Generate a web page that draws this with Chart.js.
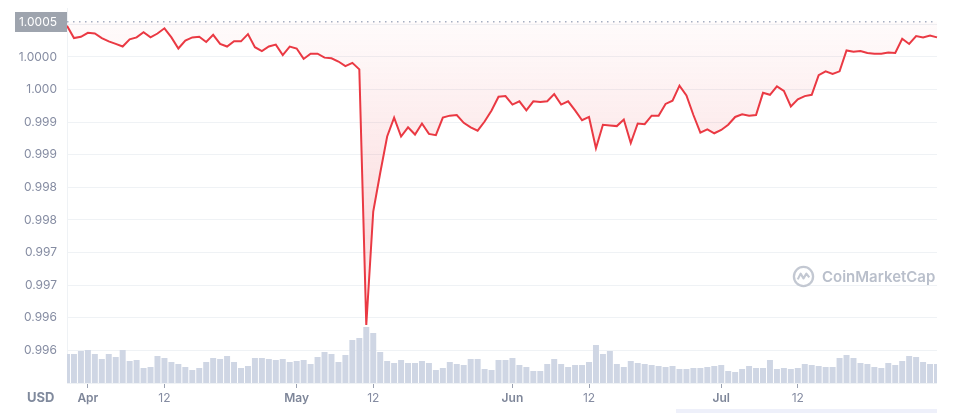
<!DOCTYPE html>
<html>
<head>
<meta charset="utf-8">
<script src="https://cdn.jsdelivr.net/npm/chart.js@4/dist/chart.umd.min.js"></script>
<style>
  body { margin: 0; background: #fff; }
  #wrap { position: relative; width: 955px; height: 413px; font-family: Inter, sans-serif; }
  #usd { position: absolute; left: 27px; top: 389px; font-size: 13px; font-weight: 700; color: #808a9d; }
  #wm { position: absolute; left: 792px; top: 265px; display: flex; align-items: center; gap: 7px;
        font-size: 15px; font-weight: 600; color: #b9bfcb; }
  #nav { position: absolute; left: 676px; top: 409px; width: 261px; height: 4px; background: #eef0fa; }
</style>
</head>
<body>
<div id="wrap">
  <canvas id="priceChart" width="955" height="413"></canvas>
  <div id="usd">USD</div>
  <div id="wm">
    <svg width="23" height="23" viewBox="0 0 24 24">
      <circle cx="12" cy="12" r="10" fill="none" stroke="#c3c8d2" stroke-width="2.4"/>
      <path d="M6 15 L9 9 L12 14 L15 9 L18 13" fill="none" stroke="#c3c8d2" stroke-width="2.2" stroke-linejoin="round"/>
    </svg>
    <span>CoinMarketCap</span>
  </div>
  <div id="nav"></div>
</div>
<script>
// --- DATA ---
const dates = [
  'Mar 29','Mar 30','Mar 31',
  'Apr 1','Apr 2','Apr 3','Apr 4','Apr 5','Apr 6','Apr 7','Apr 8','Apr 9','Apr 10',
  'Apr 11','Apr 12','Apr 13','Apr 14','Apr 15','Apr 16','Apr 17','Apr 18','Apr 19','Apr 20',
  'Apr 21','Apr 22','Apr 23','Apr 24','Apr 25','Apr 26','Apr 27','Apr 28','Apr 29','Apr 30',
  'May 1','May 2','May 3','May 4','May 5','May 6','May 7','May 8','May 9','May 10',
  'May 11','May 12','May 13','May 14','May 15','May 16','May 17','May 18','May 19','May 20',
  'May 21','May 22','May 23','May 24','May 25','May 26','May 27','May 28','May 29','May 30','May 31',
  'Jun 1','Jun 2','Jun 3','Jun 4','Jun 5','Jun 6','Jun 7','Jun 8','Jun 9','Jun 10',
  'Jun 11','Jun 12','Jun 13','Jun 14','Jun 15','Jun 16','Jun 17','Jun 18','Jun 19','Jun 20',
  'Jun 21','Jun 22','Jun 23','Jun 24','Jun 25','Jun 26','Jun 27','Jun 28','Jun 29','Jun 30',
  'Jul 1','Jul 2','Jul 3','Jul 4','Jul 5','Jul 6','Jul 7','Jul 8','Jul 9','Jul 10',
  'Jul 11','Jul 12','Jul 13','Jul 14','Jul 15','Jul 16','Jul 17','Jul 18','Jul 19','Jul 20',
  'Jul 21','Jul 22','Jul 23','Jul 24','Jul 25','Jul 26','Jul 27','Jul 28','Jul 29','Jul 30','Jul 31',
  'Aug 1'
];

const prices = [
  1.00048, 1.00029, 1.00031, 1.00037, 1.00036, 1.00029, 1.00024, 1.00020, 1.00016, 1.00027,
  1.00030, 1.00038, 1.00030, 1.00036, 1.00044, 1.00030, 1.00013, 1.00025, 1.00030, 1.00031,
  1.00023, 1.00034, 1.00020, 1.00016, 1.00024, 1.00024, 1.00035, 1.00015, 1.00009, 1.00016,
  1.00019, 1.00003, 1.00016, 1.00013, 0.99997, 1.00005, 1.00005, 0.99999, 0.99998, 0.99993,
  0.99986, 0.99991, 0.99981, 0.99589, 0.99763, 0.99822, 0.99878, 0.99907, 0.99878, 0.99892,
  0.99881, 0.99898, 0.99882, 0.99880, 0.99907, 0.99910, 0.99911, 0.99899, 0.99892, 0.99887,
  0.99901, 0.99918, 0.99939, 0.99940, 0.99927, 0.99932, 0.99918, 0.99932, 0.99931, 0.99932,
  0.99943, 0.99927, 0.99932, 0.99918, 0.99903, 0.99908, 0.99860, 0.99896, 0.99895, 0.99894,
  0.99904, 0.99868, 0.99898, 0.99897, 0.99910, 0.99910, 0.99928, 0.99933, 0.99956, 0.99941,
  0.99911, 0.99884, 0.99889, 0.99883, 0.99888, 0.99896, 0.99908, 0.99912, 0.99910, 0.99911,
  0.99945, 0.99942, 0.99955, 0.99948, 0.99924, 0.99935, 0.99940, 0.99942, 0.99972, 0.99978,
  0.99974, 0.99978, 1.00010, 1.00008, 1.00009, 1.00006, 1.00005, 1.00005, 1.00007, 1.00006,
  1.00028, 1.00020, 1.00032, 1.00030, 1.00033, 1.00030
];

// relative daily volume (bar heights, no axis shown)
const volumes = [
  29, 29, 32, 33, 29, 24, 29, 26, 33, 22,
  23, 15, 16, 27, 25, 21, 19, 16, 13, 15,
  21, 25, 24, 27, 21, 15, 17, 25, 25, 24,
  23, 24, 21, 22, 23, 19, 26, 31, 29, 21,
  28, 43, 45, 56, 50, 31, 22, 20, 23, 20,
  20, 22, 20, 13, 15, 21, 19, 18, 24, 24,
  14, 13, 23, 23, 25, 18, 16, 12, 12, 19,
  24, 19, 16, 18, 18, 21, 38, 29, 32, 19,
  16, 22, 20, 19, 18, 17, 16, 17, 14, 14,
  15, 15, 16, 17, 18, 12, 11, 14, 17, 15,
  15, 23, 14, 15, 14, 15, 19, 18, 17, 16,
  16, 25, 28, 25, 20, 19, 16, 15, 20, 18,
  22, 27, 26, 21, 19, 19
];

const tickDates = ['Apr 1', 'Apr 12', 'May 1', 'May 12', 'Jun 1', 'Jun 12', 'Jul 1', 'Jul 12'];
const tickText  = ['Apr', '12', 'May', '12', 'Jun', '12', 'Jul', '12'];

const yTickValues = [0.9950, 0.9955, 0.9960, 0.9965, 0.9970, 0.9975, 0.9980, 0.9985, 0.9990, 0.9995, 1.0000, 1.0005];
const yTickLabels = ['', '0.996', '0.996', '0.997', '0.997', '0.998', '0.998', '0.999', '0.999', '1.000', '1.0000', ''];

const baseline = 1.000541;
const baselineLabel = '1.0005';

// --- HELPERS ---
const RED = '#ea3943';
const GREY = '#858ca2';

function isMonthTick(value) {
    const i = tickDates.indexOf(dates[value]);
    return i >= 0 && tickText[i] !== '12';
}

function fillGradient(context) {
    const { chart } = context;
    const area = chart.chartArea;
    if (!area) return 'rgba(234,57,67,0.08)';
    const g = chart.ctx.createLinearGradient(0, area.top, 0, area.bottom);
    g.addColorStop(0, 'rgba(234,57,67,0.02)');
    g.addColorStop(0.4, 'rgba(234,57,67,0.12)');
    g.addColorStop(0.6, 'rgba(234,57,67,0.17)');
    g.addColorStop(0.85, 'rgba(234,57,67,0.0)');
    return g;
}

// dotted open-price line, axis line and the price tag on the left
const refPlugin = {
    id: 'refLine',
    beforeDatasetsDraw(chart) {
        const { ctx, chartArea, scales } = chart;
        const y = scales.y.getPixelForValue(baseline);
        ctx.save();
        ctx.strokeStyle = '#eff2f5';
        ctx.lineWidth = 1;
        ctx.beginPath();
        ctx.moveTo(chartArea.left + 0.5, 8);
        ctx.lineTo(chartArea.left + 0.5, chartArea.bottom);
        ctx.stroke();
        ctx.strokeStyle = '#a6b0c3';
        ctx.lineWidth = 1.5;
        ctx.setLineDash([1.5, 4.5]);
        ctx.beginPath();
        ctx.moveTo(chartArea.left, y);
        ctx.lineTo(chartArea.right, y);
        ctx.stroke();
        ctx.restore();
    },
    afterDraw(chart) {
        const { ctx, chartArea, scales } = chart;
        const y = scales.y.getPixelForValue(baseline);
        ctx.save();
        ctx.fillStyle = '#9ea4ae';
        ctx.fillRect(15, Math.round(y) - 10, chartArea.left - 15, 20);
        ctx.fillStyle = '#ffffff';
        ctx.font = '12px Inter';
        ctx.textAlign = 'right';
        ctx.textBaseline = 'middle';
        ctx.fillText(baselineLabel, chartArea.left - 10, y + 0.5);
        ctx.restore();
    }
};

// --- CHART ---
function initChart() {
    new Chart(document.getElementById('priceChart'), {
        type: 'bar',
        data: {
            labels: dates,
            datasets: [
                {
                    type: 'line',
                    data: prices,
                    yAxisID: 'y',
                    borderColor: RED,
                    borderWidth: 2,
                    pointRadius: 0,
                    tension: 0,
                    fill: { value: baseline },
                    backgroundColor: fillGradient,
                    order: 0
                },
                {
                    type: 'bar',
                    data: volumes,
                    yAxisID: 'yv',
                    backgroundColor: '#cfd6e4',
                    categoryPercentage: 1,
                    barPercentage: 0.86,
                    order: 1
                }
            ]
        },
        options: {
            responsive: false,
            animation: false,
            layout: { padding: { top: 20, right: 18, left: 0, bottom: 0 } },
            plugins: { legend: { display: false }, tooltip: { enabled: false } },
            scales: {
                x: {
                    type: 'category',
                    offset: false,
                    grid: { display: true, offset: false, drawOnChartArea: false, drawTicks: true, tickLength: 5, tickColor: '#9aa1b1' },
                    border: { display: false },
                    afterBuildTicks(axis) {
                        axis.ticks = axis.ticks.filter(t => tickDates.includes(dates[t.value]));
                    },
                    afterFit(axis) { axis.height = 30; },
                    ticks: {
                        autoSkip: false,
                        maxRotation: 0,
                        padding: 3,
                        color: ctx => isMonthTick(ctx.tick.value) ? '#7e8699' : GREY,
                        font: ctx => ({ family: 'Inter', size: 12, weight: isMonthTick(ctx.tick.value) ? '600' : '400' }),
                        callback: value => tickText[tickDates.indexOf(dates[value])]
                    }
                },
                y: {
                    position: 'left',
                    min: 0.9950,
                    max: 1.000567,
                    afterBuildTicks(axis) {
                        axis.ticks = yTickValues.map(v => ({ value: v }));
                    },
                    afterFit(axis) { axis.width = 67; },
                    grid: { color: '#eff2f5', drawTicks: false },
                    border: { display: false },
                    ticks: {
                        padding: 10,
                        color: GREY,
                        font: { family: 'Inter', size: 12 },
                        callback: (v, i) => yTickLabels[i]
                    }
                },
                yv: { display: false, min: 0, max: 363 }
            }
        },
        plugins: [refPlugin]
    });
}

window.onload = initChart;
</script>
</body>
</html>
